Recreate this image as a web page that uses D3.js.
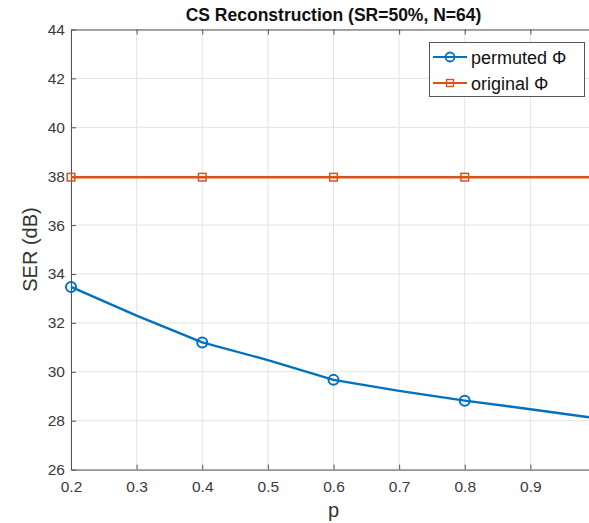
<!DOCTYPE html>
<html>
<head>
<meta charset="utf-8">
<script src="https://cdn.jsdelivr.net/npm/d3@7"></script>
<style>
body { margin: 0; background: #fff; }
svg { display: block; font-family: "Liberation Sans", Arial, sans-serif; }
</style>
</head>
<body>
<div id="chart"></div>
<script>
var width = 589,
height = 523;

// data
var pValues = [0.2, 0.3, 0.4, 0.5, 0.6, 0.7, 0.8, 0.9, 1.0];
var permutedSER = [33.47, 32.3, 31.2, 30.48, 29.67, 29.22, 28.82, 28.47, 28.1];
var originalSER = [37.96, 37.96, 37.96, 37.96, 37.96, 37.96, 37.96, 37.96, 37.96];
var xTicks = [0.2, 0.3, 0.4, 0.5, 0.6, 0.7, 0.8, 0.9, 1.0];
var yTicks = [26, 28, 30, 32, 34, 36, 38, 40, 42, 44];
var seriesNames = ["permuted \u03A6", "original \u03A6"];

// plot box (right edge falls outside the window, like the reference)
var plotLeft = 71, plotRight = 596, plotTop = 29.5, plotBottom = 469.6;

var xScale = d3.scaleLinear().domain([0.2, 1.0]).range([plotLeft, plotRight]);
var yScale = d3.scaleLinear().domain([26, 44]).range([plotBottom, plotTop]);

const svg = d3.select('#chart').
append('svg').
attr('width', width).
attr('height', height);

// grid
svg.append('g').
selectAll('line').
data(xTicks).
enter().
append('line').
attr('x1', d => xScale(d)).
attr('x2', d => xScale(d)).
attr('y1', plotTop).
attr('y2', plotBottom).
attr('stroke', '#e3e3e3').
attr('stroke-width', 1);

svg.append('g').
selectAll('line').
data(yTicks).
enter().
append('line').
attr('x1', plotLeft).
attr('x2', plotRight).
attr('y1', d => yScale(d)).
attr('y2', d => yScale(d)).
attr('stroke', '#e3e3e3').
attr('stroke-width', 1);

// axes (ticks point inward like matlab)
const xAxis = d3.axisBottom(xScale).tickValues(xTicks).tickSizeInner(-5).tickSizeOuter(0).tickPadding(11).tickFormat(d3.format('.1f'));
const yAxis = d3.axisLeft(yScale).tickValues(yTicks).tickSizeInner(-5).tickSizeOuter(0).tickPadding(6);
const xTop = d3.axisTop(xScale).tickValues(xTicks).tickSizeInner(-5).tickSizeOuter(0).tickFormat('');

var gx = svg.append('g').attr('transform', 'translate(0,' + plotBottom + ')').call(xAxis);
var gy = svg.append('g').attr('transform', 'translate(' + plotLeft + ',0)').call(yAxis);
var gt = svg.append('g').attr('transform', 'translate(0,' + plotTop + ')').call(xTop);

[gx, gy, gt].forEach(g => {
  g.select('.domain').attr('stroke', '#555').attr('stroke-width', 1);
  g.selectAll('.tick line').attr('stroke', '#555');
  g.selectAll('.tick text').attr('fill', '#3a3a3a').style('font-size', '15.5px');
});
gx.select('.tick:last-of-type text').remove();

// lines
var line = d3.line().x(d => xScale(d[0])).y(d => yScale(d[1]));

var permuted = pValues.map((p, i) => [p, permutedSER[i]]);
var original = pValues.map((p, i) => [p, originalSER[i]]);

svg.append('path').datum(original).
attr('d', line).attr('fill', 'none').
attr('stroke', '#D95319').attr('stroke-width', 2.4);

svg.append('path').datum(permuted).
attr('d', line).attr('fill', 'none').
attr('stroke', '#0072BD').attr('stroke-width', 2.4);

// markers on every other point
svg.selectAll('.sq').
data(original.filter((d, i) => i % 2 == 0)).
enter().
append('rect').
attr('x', d => xScale(d[0]) - 3.8).
attr('y', d => yScale(d[1]) - 3.8).
attr('width', 7.6).attr('height', 7.6).
attr('fill', 'none').attr('stroke', '#D95319').attr('stroke-width', 1.5);

svg.selectAll('.circ').
data(permuted.filter((d, i) => i % 2 == 0)).
enter().
append('circle').
attr('cx', d => xScale(d[0])).
attr('cy', d => yScale(d[1])).
attr('r', 5).
attr('fill', 'none').attr('stroke', '#0072BD').attr('stroke-width', 2);

// title & labels
svg.append('text').
attr('x', (plotLeft + plotRight) / 2).attr('y', 21).
attr('text-anchor', 'middle').
style('font-size', '17.5px').style('font-weight', 'bold').
attr('fill', '#111').
text('CS Reconstruction (SR=50%, N=64)');

svg.append('text').
attr('x', (plotLeft + plotRight) / 2).attr('y', 517).
attr('text-anchor', 'middle').
style('font-size', '20px').attr('fill', '#333').
text('p');

svg.append('text').
attr('transform', 'translate(37,' + ((plotTop + plotBottom) / 2) + ') rotate(-90)').
attr('text-anchor', 'middle').
style('font-size', '20px').attr('fill', '#333').
text('SER (dB)');

// legend
var legend = svg.append('g');
legend.append('rect').
attr('x', 429.5).attr('y', 42.5).attr('width', 155).attr('height', 54).
attr('fill', '#fff').attr('stroke', '#555').attr('stroke-width', 1);

var legendColors = ['#0072BD', '#D95319'];
seriesNames.forEach((name, i) => {
  var ly = 57 + i * 26;
  legend.append('line').
  attr('x1', 433).attr('x2', 467).attr('y1', ly).attr('y2', ly).
  attr('stroke', legendColors[i]).attr('stroke-width', 2.2);
  if (i == 0) {
    legend.append('circle').attr('cx', 450).attr('cy', ly).attr('r', 4.5).
    attr('fill', 'none').attr('stroke', legendColors[i]).attr('stroke-width', 1.8);
  } else {
    legend.append('rect').attr('x', 446.5).attr('y', ly - 3.5).attr('width', 7).attr('height', 7).
    attr('fill', 'none').attr('stroke', legendColors[i]).attr('stroke-width', 1.4);
  }
  legend.append('text').
  attr('x', 471).attr('y', ly + 6.5).
  style('font-size', '18px').attr('fill', '#111').
  text(name);
});
</script>
</body>
</html>
